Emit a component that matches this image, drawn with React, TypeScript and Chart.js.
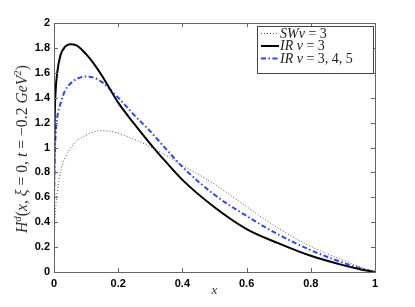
import React, { useEffect, useRef } from "react";
import { Chart, registerables } from "chart.js";

Chart.register(...registerables);

const xValues = [0, 0.002, 0.005, 0.01, 0.02, 0.035, 0.05, 0.07, 0.1, 0.125, 0.15, 0.2, 0.25, 0.3, 0.35, 0.4, 0.5, 0.6, 0.7, 0.8, 0.9, 0.95, 1];
const swNu3 = [0, 0.35, 0.5, 0.64, 0.8, 0.92, 0.99, 1.05, 1.1, 1.125, 1.135, 1.115, 1.065, 1.005, 0.935, 0.857, 0.705, 0.525, 0.35, 0.205, 0.095, 0.045, 0];
const irNu3 = [0.65, 1.2, 1.45, 1.6, 1.74, 1.81, 1.83, 1.82, 1.75, 1.67, 1.575, 1.36, 1.19, 1.03, 0.88, 0.74, 0.52, 0.345, 0.23, 0.13, 0.055, 0.024, 0];
const irNu345 = [0.5, 0.9, 1.1, 1.24, 1.35, 1.46, 1.51, 1.55, 1.57, 1.56, 1.525, 1.4, 1.26, 1.13, 0.985, 0.845, 0.62, 0.45, 0.3, 0.175, 0.075, 0.033, 0];
const seriesLabels = ["SWν = 3", "IR ν = 3", "IR ν = 3, 4, 5"];
const xTicks = [0, 0.2, 0.4, 0.6, 0.8, 1];
const yTicks = [0, 0.2, 0.4, 0.6, 0.8, 1, 1.2, 1.4, 1.6, 1.8, 2];
const xTitle = "x";
// segments: [text, italic, superscript]
const yTitleParts: [string, boolean, boolean][] = [
  ["H", true, false], ["d", true, true], ["(", false, false], ["x", true, false], [", ", false, false],
  ["ξ", true, false], [" = 0, ", false, false], ["t", true, false], [" = −0.2 ", false, false],
  ["GeV", true, false], ["2", false, true], [")", false, false],
];

const SERIF = '"Liberation Serif", "DejaVu Serif", serif';

function drawMathText(ctx: CanvasRenderingContext2D, text: string, x: number, y: number, size: number) {
  let cx = x;
  for (const ch of text) {
    const it = /[A-Za-zα-ωΑ-Ω]/.test(ch);
    ctx.font = `${it ? "italic " : ""}${size}px ${SERIF}`;
    ctx.fillText(ch, cx, y);
    cx += ctx.measureText(ch).width;
  }
  return cx - x;
}

const framePlugin = {
  id: "framePlugin",
  afterDraw(chart: any) {
    const { ctx, chartArea: a, scales } = chart;
    ctx.save();
    ctx.strokeStyle = "#666";
    ctx.lineWidth = 1;
    ctx.strokeRect(Math.round(a.left) + 0.5, Math.round(a.top) + 0.5, Math.round(a.right - a.left), Math.round(a.bottom - a.top));
    const tl = 4;
    ctx.beginPath();
    for (const v of xTicks) {
      const px = Math.round(scales.x.getPixelForValue(v)) + 0.5;
      ctx.moveTo(px, a.bottom); ctx.lineTo(px, a.bottom - tl);
      ctx.moveTo(px, a.top); ctx.lineTo(px, a.top + tl);
    }
    for (const v of yTicks) {
      const py = Math.round(scales.y.getPixelForValue(v)) + 0.5;
      ctx.moveTo(a.left, py); ctx.lineTo(a.left + tl, py);
      ctx.moveTo(a.right, py); ctx.lineTo(a.right - tl, py);
    }
    ctx.stroke();

    ctx.fillStyle = "#333";
    ctx.textBaseline = "alphabetic";
    ctx.font = `italic 13px ${SERIF}`;
    const xw = ctx.measureText(xTitle).width;
    ctx.fillText(xTitle, (a.left + a.right) / 2 - xw / 2, 294);

    const base = 12.5;
    let total = 0;
    for (const [t, it, sup] of yTitleParts) {
      ctx.font = `${it ? "italic " : ""}${sup ? base * 0.7 : base}px ${SERIF}`;
      total += ctx.measureText(t).width;
    }
    const target = 168;
    const s = target / total;
    ctx.translate(27, 149);
    ctx.rotate(-Math.PI / 2);
    ctx.scale(s, s);
    let cx = -total / 2;
    for (const [t, it, sup] of yTitleParts) {
      ctx.font = `${it ? "italic " : ""}${sup ? base * 0.7 : base}px ${SERIF}`;
      ctx.fillText(t, cx, sup ? -5 : 0);
      cx += ctx.measureText(t).width;
    }
    ctx.restore();

    ctx.save();
    const lx = 257, ly = 26, lw = 116, lh = 47;
    ctx.fillStyle = "#fff";
    ctx.fillRect(lx, ly, lw, lh);
    ctx.strokeStyle = "#444";
    ctx.lineWidth = 1;
    ctx.strokeRect(lx + 0.5, ly + 0.5, lw, lh);
    const rowsY = [33, 45.5, 58];
    chart.data.datasets.forEach((ds: any, i: number) => {
      const y = rowsY[i];
      ctx.save();
      ctx.strokeStyle = ds.borderColor;
      ctx.lineWidth = ds.borderWidth;
      ctx.setLineDash(ds.borderDash || []);
      ctx.beginPath();
      ctx.moveTo(261, y + 0.5);
      ctx.lineTo(279, y + 0.5);
      ctx.stroke();
      ctx.restore();
      ctx.fillStyle = "#222";
      ctx.textBaseline = "alphabetic";
      drawMathText(ctx, ds.label, 280, y + 4.5, 14);
    });
    ctx.restore();
  },
};

export default function App() {
  const ref = useRef<HTMLCanvasElement | null>(null);
  useEffect(() => {
    if (!ref.current) return;
    const mk = (arr: number[]) => xValues.map((x, i) => ({ x, y: arr[i] }));
    const chart = new Chart(ref.current, {
      type: "line",
      data: {
        datasets: [
          { label: seriesLabels[0], data: mk(swNu3), borderColor: "#555", borderWidth: 1, borderDash: [1, 2], pointRadius: 0, cubicInterpolationMode: "monotone" },
          { label: seriesLabels[1], data: mk(irNu3), borderColor: "#000", borderWidth: 2, pointRadius: 0, cubicInterpolationMode: "monotone" },
          { label: seriesLabels[2], data: mk(irNu345), borderColor: "#2b45ff", borderWidth: 2, borderDash: [5, 2.5, 1.5, 2.5], pointRadius: 0, cubicInterpolationMode: "monotone" },
        ] as any,
      },
      options: {
        responsive: false,
        animation: false,
        events: [],
        layout: { padding: { top: 23, right: 40, left: 0, bottom: 0 } },
        plugins: { legend: { display: false }, tooltip: { enabled: false } },
        scales: {
          x: {
            type: "linear", min: 0, max: 1,
            afterFit: (s: any) => { s.height = 35; },
            afterBuildTicks: (s: any) => { s.ticks = xTicks.map((v) => ({ value: v })); },
            grid: { display: false, drawTicks: false },
            border: { display: false },
            ticks: { padding: 5, color: "#000", font: { family: '"Liberation Sans", Arial, sans-serif', size: 11, weight: "bold" }, callback: (v: any) => String(+Number(v).toFixed(1)) },
          },
          y: {
            type: "linear", min: 0, max: 2,
            afterFit: (s: any) => { s.width = 54; },
            afterBuildTicks: (s: any) => { s.ticks = yTicks.map((v) => ({ value: v })); },
            grid: { display: false, drawTicks: false },
            border: { display: false },
            ticks: { padding: 4, color: "#000", font: { family: '"Liberation Sans", Arial, sans-serif', size: 11, weight: "bold" }, callback: (v: any) => String(+Number(v).toFixed(1)) },
          },
        },
      } as any,
      plugins: [framePlugin],
    });
    return () => chart.destroy();
  }, []);
  return (
    <div style={{ position: "fixed", left: 0, top: 0, width: 415, height: 307, background: "#fff" }}>
      <canvas ref={ref} width={415} height={307} />
    </div>
  );
}
